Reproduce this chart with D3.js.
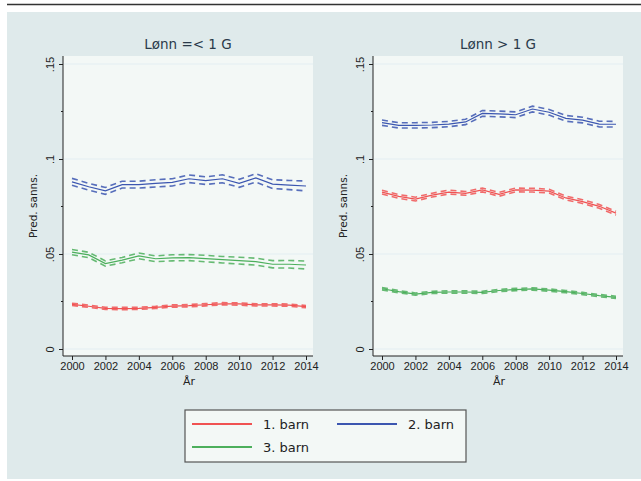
<!DOCTYPE html>
<html><head><meta charset="utf-8">
<script src="https://cdn.jsdelivr.net/npm/d3@7"></script>
<style>body{margin:0;background:#fff}svg{display:block;font-family:"DejaVu Sans",sans-serif}</style>
</head><body><svg id="c" width="641" height="481"></svg>
<script>
const years = d3.range(2000, 2015);
const panelTitles = ["Lønn =< 1 G", "Lønn > 1 G"];
const seriesNames = ["1. barn", "2. barn", "3. barn"];
const seriesColors = ["#f05252", "#3b56b0", "#4caf5c"];
const yTicks = [0, 0.05, 0.1, 0.15];
const yTickLabels = ["0", ".05", ".1", ".15"];
const xTicks = [2000, 2002, 2004, 2006, 2008, 2010, 2012, 2014];

// Left panel (Lønn =< 1 G)
const low1 = [0.0235,0.0225,0.0214,0.0213,0.0214,0.0219,0.0226,0.0228,0.0233,0.0238,0.0237,0.0232,0.0232,0.0231,0.0223];
const low1ci = [0.0006,0.0006,0.0006,0.0006,0.0006,0.0006,0.0006,0.0006,0.0006,0.0006,0.0006,0.0006,0.0006,0.0006,0.0006];
const low2 = [0.0880,0.0854,0.0832,0.0865,0.0865,0.0872,0.0877,0.0896,0.0886,0.0896,0.0872,0.0900,0.0868,0.0863,0.0858];
const low2ci = [0.0018,0.0018,0.0018,0.0018,0.0018,0.0019,0.0019,0.0020,0.0020,0.0021,0.0021,0.0022,0.0023,0.0024,0.0026];
const low3 = [0.0510,0.0495,0.0450,0.0468,0.0490,0.0475,0.0480,0.0481,0.0476,0.0470,0.0465,0.0460,0.0446,0.0446,0.0442];
const low3ci = [0.0014,0.0014,0.0014,0.0014,0.0015,0.0015,0.0016,0.0016,0.0017,0.0017,0.0018,0.0018,0.0019,0.0020,0.0021];
// Right panel (Lønn > 1 G)
const high1 = [0.0826,0.0803,0.0789,0.0810,0.0826,0.0819,0.0837,0.0814,0.0837,0.0836,0.0831,0.0795,0.0776,0.0751,0.0715];
const high1ci = [0.0010,0.0010,0.0010,0.0010,0.0010,0.0010,0.0010,0.0010,0.0010,0.0010,0.0010,0.0010,0.0010,0.0010,0.0010];
const high2 = [0.1191,0.1177,0.1177,0.1179,0.1184,0.1195,0.1240,0.1237,0.1233,0.1263,0.1246,0.1214,0.1205,0.1184,0.1183];
const high2ci = [0.0014,0.0014,0.0014,0.0014,0.0014,0.0014,0.0015,0.0015,0.0015,0.0015,0.0015,0.0015,0.0015,0.0015,0.0015];
const high3 = [0.0317,0.0302,0.0289,0.0298,0.0300,0.0300,0.0298,0.0308,0.0313,0.0316,0.0310,0.0302,0.0292,0.0281,0.0272];
const high3ci = [0.0006,0.0006,0.0006,0.0006,0.0006,0.0006,0.0006,0.0006,0.0006,0.0006,0.0006,0.0006,0.0006,0.0006,0.0006];

const panels = [
  {title: panelTitles[0], series: [[low1,low1ci],[low2,low2ci],[low3,low3ci]], left: 63},
  {title: panelTitles[1], series: [[high1,high1ci],[high2,high2ci],[high3,high3ci]], left: 373}
];

const svg = d3.select("#c");
svg.append("rect").attr("x",7).attr("y",12).attr("width",634).attr("height",467).attr("fill","#dfeaeb");
svg.append("line").attr("x1",7).attr("x2",641).attr("y1",4.5).attr("y2",4.5).attr("stroke","#333").attr("stroke-width",1.6);

const plotTop = 56, plotBottom = 356;
const y = d3.scaleLinear().domain([0, 0.15]).range([349, 64]);

panels.forEach(p => {
  const L = p.left, R = L + 250;
  const x = d3.scaleLinear().domain([2000, 2014]).range([L + 9, L + 243]);
  const g = svg.append("g");
  g.append("rect").attr("x",L).attr("y",plotTop).attr("width",R-L).attr("height",plotBottom-plotTop).attr("fill","#f3f8f6");
  g.selectAll("line.grid").data(yTicks).join("line").attr("class","grid")
    .attr("x1",L+1).attr("x2",R).attr("y1",d=>y(d)).attr("y2",d=>y(d))
    .attr("stroke","#e3eef1").attr("stroke-width",1.2);
  g.append("text").attr("x",(L+R)/2).attr("y",49).attr("text-anchor","middle")
    .attr("font-size",13.5).attr("fill","#2a3a4a").text(p.title);
  const line = d3.line().x((d,i)=>x(years[i])).y(d=>y(d));
  p.series.forEach(([v,ci],k) => {
    const col = seriesColors[k];
    const up = v.map((d,i)=>d+ci[i]), lo = v.map((d,i)=>d-ci[i]);
    [up, lo].forEach(arr => g.append("path").attr("d",line(arr)).attr("fill","none")
      .attr("stroke",col).attr("stroke-width",1.6).attr("stroke-dasharray","6,4").attr("opacity",0.85));
    g.append("path").attr("d",line(v)).attr("fill","none").attr("stroke",col).attr("stroke-width",1.2);
  });
  const ya = d3.axisLeft(y).tickValues(yTicks).tickFormat((d,i)=>yTickLabels[i]).tickSize(4).tickPadding(3);
  const yg = g.append("g").attr("transform",`translate(${L},0)`).call(ya);
  yg.select(".domain").attr("d",`M0,${plotTop}V${plotBottom}`).attr("stroke","#222");
  yg.selectAll(".tick line").attr("stroke","#222");
  yg.selectAll(".tick text").attr("font-size",11).attr("fill","#222")
    .attr("transform","rotate(-90)").attr("x",0).attr("y",-9).attr("dy",0).attr("text-anchor","middle");
  g.selectAll("line.minor").data([0.025,0.075,0.125]).join("line").attr("class","minor")
    .attr("x1",L-2).attr("x2",L).attr("y1",d=>y(d)).attr("y2",d=>y(d)).attr("stroke","#222");
  g.append("text").attr("transform",`translate(${L-26},${(plotTop+plotBottom)/2}) rotate(-90)`)
    .attr("text-anchor","middle").attr("font-size",10.5).attr("fill","#222").text("Pred. sanns.");
  const xa = d3.axisBottom(x).tickValues(xTicks).tickFormat(d3.format("d")).tickSize(4).tickPadding(2);
  const xg = g.append("g").attr("transform",`translate(0,${plotBottom})`).call(xa);
  xg.select(".domain").attr("d",`M${L},0H${R}`).attr("stroke","#222");
  xg.selectAll(".tick line").attr("stroke","#222");
  xg.selectAll(".tick text").attr("font-size",11).attr("fill","#222");
  g.append("text").attr("x",x(2007)).attr("y",385).attr("text-anchor","middle")
    .attr("font-size",11).attr("fill","#222").text("År");
});

const lg = svg.append("g");
lg.append("rect").attr("x",185).attr("y",410).attr("width",281).attr("height",52)
  .attr("fill","#f3f8f6").attr("stroke","#555").attr("stroke-width",1.2);
const legPos = [[192,424],[337,424],[192,447]];
seriesNames.forEach((n,i) => {
  const [lx,ly] = legPos[i];
  lg.append("line").attr("x1",lx).attr("x2",lx+60).attr("y1",ly).attr("y2",ly)
    .attr("stroke",seriesColors[i]).attr("stroke-width",2);
  lg.append("text").attr("x",lx+71).attr("y",ly+5).attr("font-size",13).attr("fill","#222").text(n);
});
</script></body></html>
